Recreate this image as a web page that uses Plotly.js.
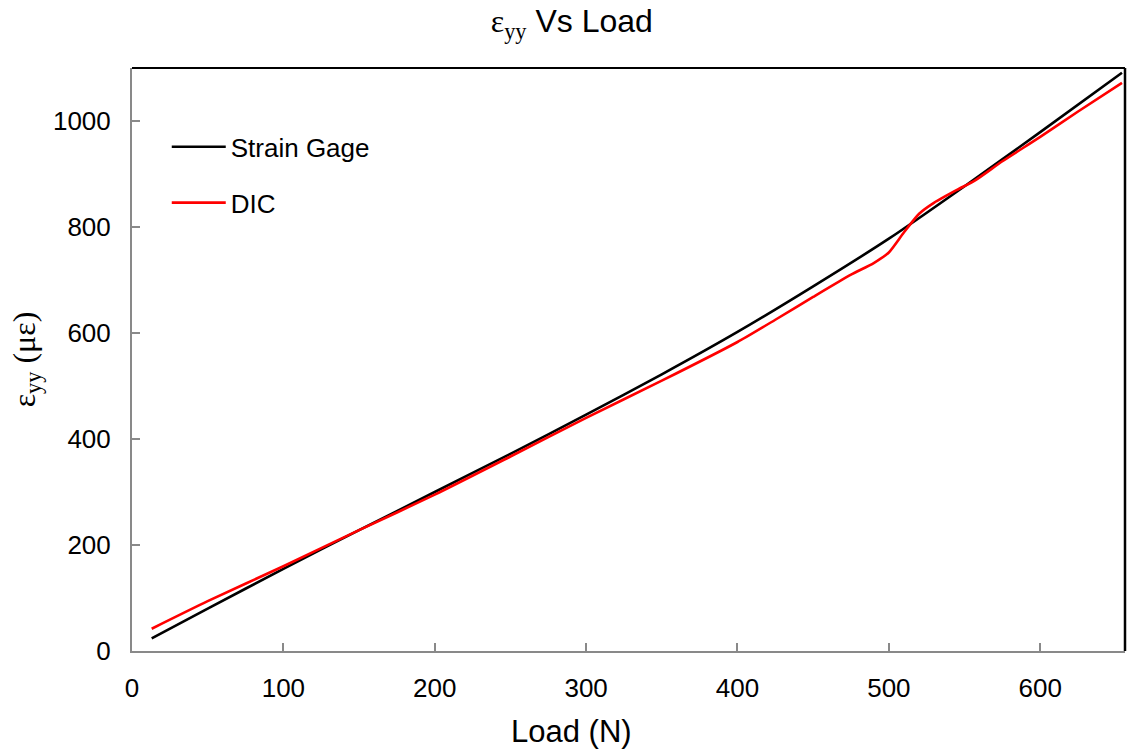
<!DOCTYPE html>
<html>
<head>
<meta charset="utf-8">
<script src="https://cdn.plot.ly/plotly-3.0.1.min.js"></script>
<style>html,body{margin:0;padding:0;background:#fff;}#chart{width:1130px;height:749px;}</style>
</head>
<body>
<div id="chart"></div>
<script>
// Strain Gage series
const gageLoad = [13, 50, 100, 150, 200, 250, 300, 350, 400, 450, 500, 550, 600, 654];
const gageStrain = [24, 80, 155, 228, 300, 372, 446, 522, 602, 688, 778, 877, 979, 1091];
// DIC series
const dicLoad = [13, 50, 100, 150, 200, 250, 300, 350, 400, 425, 450, 475, 490, 500, 510, 520, 530, 545, 557, 575, 600, 625, 654];
const dicStrain = [42, 94, 160, 228, 295, 367, 440, 510, 583, 625, 668, 710, 732, 752, 790, 825, 846, 870, 888, 924, 970, 1018, 1072];
// axis ticks
const xTicks = [0, 100, 200, 300, 400, 500, 600];
const yTicks = [0, 200, 400, 600, 800, 1000];

const sans = 'Liberation Sans, Arial, sans-serif';
const serif = 'Liberation Serif, Times New Roman, serif';

const traces = [
  {x: gageLoad, y: gageStrain, name: 'Strain Gage', mode: 'lines', legendgroup: 'a',
   line: {color: '#000000', width: 2.6, shape: 'spline', smoothing: 0.6}},
  {x: dicLoad, y: dicStrain, name: 'DIC', mode: 'lines', legendgroup: 'b',
   line: {color: '#ff0000', width: 2.6, shape: 'spline', smoothing: 0.6}}
];

const axisCommon = {
  showgrid: false, zeroline: false, showline: true, linecolor: '#898989', linewidth: 2,
  ticks: 'inside', ticklen: 8, tickwidth: 2, tickcolor: '#898989',
  tickfont: {family: sans, size: 26, color: '#000'}
};

const layout = {
  width: 1130, height: 749,
  margin: {l: 132, r: 5, t: 68, b: 98},
  paper_bgcolor: '#fff', plot_bgcolor: '#fff',
  title: {
    text: '<span style="font-family:\'Liberation Serif\'">ε<sub>yy</sub></span> Vs Load',
    font: {family: sans, size: 32, color: '#000'},
    x: 0.506, xanchor: 'center', y: 0.972, yanchor: 'middle'
  },
  xaxis: Object.assign({}, axisCommon, {
    range: [0, 656], tickvals: xTicks, ticklabelstandoff: 13
  }),
  yaxis: Object.assign({}, axisCommon, {
    range: [0, 1100], tickvals: yTicks, ticklabelstandoff: 14,
    title: {text: 'ε<sub>yy</sub> (με)', font: {family: serif, size: 32, color: '#000'}, standoff: 8}
  }),
  annotations: [
    {text: 'Load (N)', xref: 'paper', yref: 'paper', x: 0.443, y: -0.1375,
     xanchor: 'center', yanchor: 'middle', showarrow: false,
     font: {family: sans, size: 31, color: '#000'}}
  ],
  showlegend: true,
  legend: {
    x: 0.035, y: 0.905, xanchor: 'left', yanchor: 'top',
    bgcolor: 'rgba(0,0,0,0)', borderwidth: 0,
    font: {family: sans, size: 26, color: '#000'},
    itemwidth: 54, tracegroupgap: 19
  },
  shapes: [
    {type: 'line', xref: 'paper', yref: 'paper', x0: 0, x1: 1, y0: 1, y1: 1, line: {color: '#000', width: 2}},
    {type: 'line', xref: 'paper', yref: 'paper', x0: 1, x1: 1, y0: 0, y1: 1, line: {color: '#000', width: 2.5}}
  ]
};

Plotly.newPlot('chart', traces, layout, {displayModeBar: false, staticPlot: true});
</script>
</body>
</html>
